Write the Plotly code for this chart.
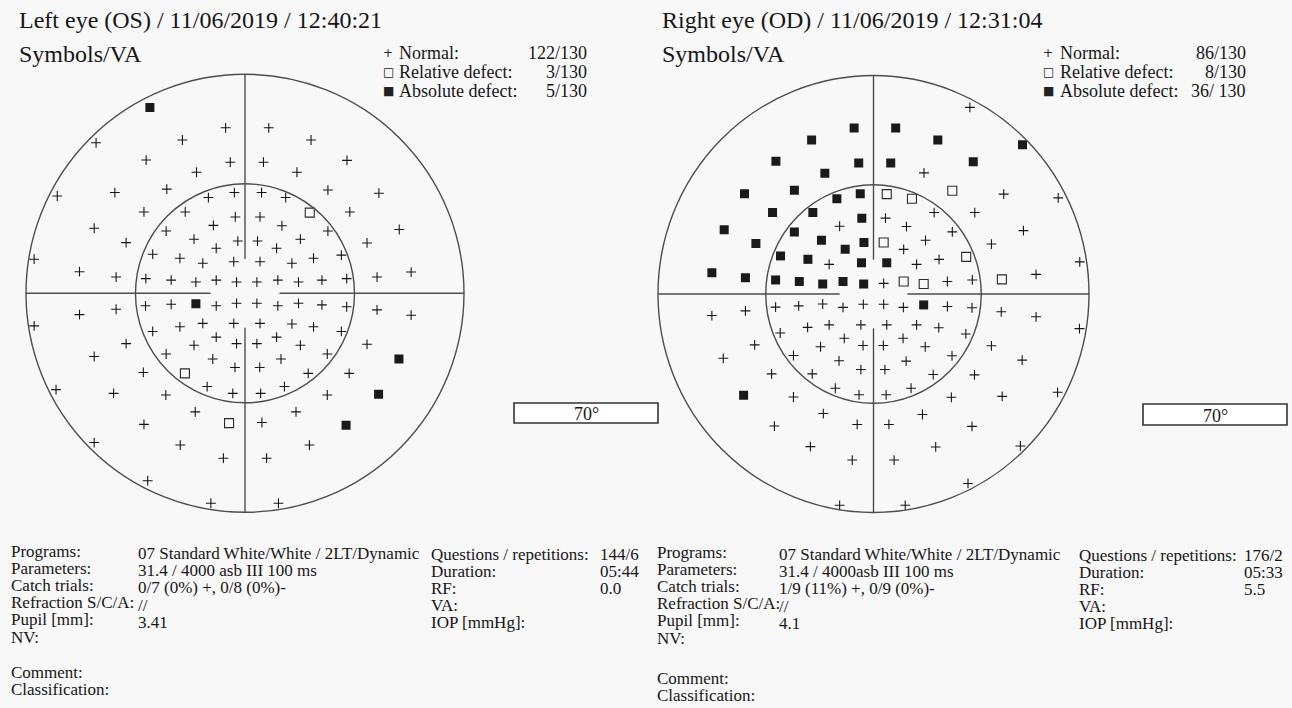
import plotly.graph_objects as go

# ---------------- data (degrees of visual field) ----------------
OS_X = [-30.4, -6.2, 7.6, -47.6, -20.0, 21.1, -31.6, -4.7, 5.9, 32.6,
        -15.5, 16.6, -60.0, -41.6, -25.0, 26.5, 42.8, -11.7, -3.4, 5.3,
        13.0, -32.3, -19.1, 20.7, 33.5, -3.1, 4.8, -48.2, -25.2, -10.1,
        11.8, 26.5, 49.3, -38.0, -16.3, -2.3, 4.0, 17.7, 39.0, -9.2,
        10.1, -67.4, -29.5, -20.8, -13.5, -3.6, 4.8, 15.0, 21.9, 30.8,
        -52.9, -41.2, -31.7, -23.6, -15.7, -9.2, -2.7, 3.8, 10.5, 17.1,
        24.6, 32.5, 42.2, 53.1, -52.9, -41.2, -31.8, -23.6, -15.7, -9.2,
        -2.7, 3.8, 10.5, 17.1, 24.6, 32.5, 42.2, 53.1, -67.4, -29.5,
        -20.8, -13.5, -3.6, 4.8, 15.0, 21.9, 30.8, -9.2, 10.1, -38.0,
        -16.3, -2.7, 3.8, 17.7, 39.0, -48.2, -25.2, -10.3, 11.5, 26.3,
        49.2, -3.2, 4.7, -32.5, -19.2, 20.2, 33.3, -12.1, -3.9, 5.0,
        12.6, -60.4, -42.0, -25.3, 26.3, 42.7, -15.9, 16.3, -32.3, -5.1,
        5.4, 32.3, -48.2, -20.7, 20.6, -6.9, 6.9, -31.1, -10.9, 10.7]
OS_Y = [59.4, 52.9, 52.9, 48.1, 49.0, 49.0, 42.6, 41.9, 41.9, 42.5,
        38.7, 38.7, 31.1, 32.2, 33.3, 33.0, 32.0, 30.6, 32.2, 32.2,
        30.6, 26.0, 26.0, 25.8, 26.0, 24.4, 24.4, 20.8, 19.9, 21.7,
        21.6, 19.9, 20.4, 16.2, 17.3, 16.7, 16.7, 17.3, 16.1, 14.4,
        14.4, 10.9, 12.5, 11.2, 9.6, 10.1, 10.1, 9.6, 11.2, 12.2,
        6.9, 5.2, 4.7, 4.2, 3.6, 4.2, 3.6, 3.6, 4.2, 3.6,
        4.2, 4.7, 5.2, 6.8, -6.8, -5.1, -4.0, -3.5, -3.3, -4.0,
        -3.2, -3.2, -4.0, -3.2, -3.7, -4.3, -5.3, -7.0, -10.4, -12.2,
        -10.7, -9.6, -9.6, -9.6, -9.8, -10.7, -12.2, -14.0, -14.0, -16.1,
        -16.6, -16.1, -16.1, -16.6, -16.3, -20.2, -19.4, -21.0, -21.0, -19.4,
        -21.0, -23.7, -23.7, -25.3, -25.6, -25.6, -25.6, -29.8, -32.0, -32.0,
        -29.8, -30.8, -32.0, -32.5, -32.5, -32.3, -37.9, -37.9, -41.9, -41.5,
        -41.3, -42.2, -47.7, -48.5, -48.5, -52.7, -52.7, -59.9, -67.1, -67.1]
# N = normal, R = relative defect, A = absolute defect
OS_STATUS = list("ANNNNNNNNN" "NNNNNNNNNN" "NNNRNNNNNN" "NNNNNNNNNN" "NNNNNNNNNN"
                 "NNNNNNNNNN" "NNNNNNNNAN" "NNNNNNNNNN" "NNNNNNNNNN" "NNNNNNNNNN"
                 "ANNNRNNNNN" "NNNNNANNNR" "NANNNNNNNN")

OD_X = [31.3, -6.3, 7.2, -20.1, 20.9, 48.4, -31.7, -4.8, 5.6, 32.4,
        -15.8, 16.4, -41.9, -25.7, -11.9, -4.3, 4.3, 12.5, 25.6, 42.3,
        60.0, -32.8, -19.7, 19.7, 32.9, -3.8, 3.9, -48.5, -25.7, -11.0,
        10.7, 25.6, 48.7, -38.2, -16.9, -3.1, 3.3, 16.9, 38.3, -9.2,
        9.8, -30.2, -21.3, -14.4, -3.9, 4.3, 14.0, 21.3, 30.1, 67.0,
        -52.5, -41.6, -31.8, -24.1, -16.5, -9.9, -3.2, 3.3, 9.8, 16.3,
        24.0, 32.1, 41.7, 52.8, -52.5, -41.6, -31.8, -24.3, -16.5, -9.9,
        -3.3, 3.3, 9.7, 16.3, 24.0, 32.0, 41.5, 52.8, 66.9, -30.3,
        -21.4, -14.4, -4.1, 4.3, 14.0, 21.2, 30.0, -38.6, -17.2, -9.5,
        -3.4, 3.2, 9.6, 16.8, 38.3, -48.8, -26.0, -11.2, 10.6, 25.5,
        48.3, -33.1, -19.9, -4.1, 3.7, 19.4, 32.8, -12.4, 12.2, -42.2,
        -26.0, -4.7, 4.1, 25.3, 41.8, 59.8, -16.3, 15.9, -32.2, -5.3,
        5.0, 32.0, -20.5, 20.2, 47.7, -6.9, 6.7, 30.7, -11.0, 10.3]
OD_Y = [59.8, 53.2, 53.2, 49.3, 49.3, 47.8, 42.5, 42.0, 42.0, 42.4,
        38.7, 38.8, 32.1, 33.2, 30.5, 32.1, 32.0, 30.5, 33.1, 32.0,
        30.8, 26.1, 26.1, 26.1, 26.1, 24.3, 24.3, 20.6, 19.9, 21.7,
        21.6, 19.9, 20.3, 16.2, 17.2, 16.5, 16.5, 17.2, 16.0, 14.3,
        14.3, 12.2, 11.1, 9.5, 10.0, 10.0, 9.5, 11.1, 11.9, 10.3,
        6.8, 5.2, 4.5, 4.0, 3.2, 4.0, 3.2, 3.4, 4.0, 3.2,
        4.0, 4.5, 4.7, 6.3, -6.9, -5.4, -4.2, -3.8, -3.2, -4.3,
        -3.3, -3.3, -4.3, -3.5, -4.0, -4.4, -5.7, -7.3, -11.1, -12.5,
        -10.7, -9.9, -9.9, -9.9, -9.9, -10.8, -12.8, -16.3, -16.9, -14.2,
        -16.5, -16.5, -14.2, -16.9, -16.6, -20.6, -19.7, -21.4, -21.5, -19.8,
        -21.2, -25.6, -25.6, -24.2, -24.2, -25.8, -25.9, -30.2, -30.2, -32.4,
        -33.0, -32.3, -32.3, -33.1, -32.8, -31.5, -38.3, -38.6, -42.3, -41.8,
        -41.8, -42.4, -48.9, -49.0, -48.7, -53.2, -53.2, -60.7, -67.7, -67.7]
OD_STATUS = list("NAAAAAAAAA" "ANAAAARRRN" "NAANNANAAN" "NNNAAARNNA" "NAANAANNRN"
                 "AAAAAAANRR" "NNRNNNNNNN" "NNNANNNNNN" "NNNNNNNNNN" "NNNNNNNNNN"
                 "NNNNNNNNNA" "NNNNNNNNNN" "NNNNNNNNNN")

OS_TITLE = "Left eye (OS) / 11/06/2019 / 12:40:21"
OD_TITLE = "Right eye (OD) / 11/06/2019 / 12:31:04"
SUBTITLE = "Symbols/VA"
LEGEND_LABELS = ["Normal:", "Relative defect:", "Absolute defect:"]
SCALE_LABEL = "70°"
FIELD_LIMIT = 70
INNER_LIMIT = 35

INFO_LABELS = ["Programs:", "Parameters:", "Catch trials:", "Refraction S/C/A:", "Pupil [mm]:", "NV:"]
OS_INFO_VALUES = ["07 Standard White/White / 2LT/Dynamic", "31.4 / 4000 asb III 100 ms",
                  "0/7 (0%) +, 0/8 (0%)-", "//", "3.41", ""]
OD_INFO_VALUES = ["07 Standard White/White / 2LT/Dynamic", "31.4 / 4000asb III 100 ms",
                  "1/9 (11%) +, 0/9 (0%)-", "//", "4.1", ""]
INFO2_LABELS = ["Questions / repetitions:", "Duration:", "RF:", "VA:", "IOP [mmHg]:"]
OS_INFO2_VALUES = ["144/6", "05:44", "0.0", "", ""]
OD_INFO2_VALUES = ["176/2", "05:33", "5.5", "", ""]
FOOT_LABELS = ["Comment:", "Classification:"]

# ---------------- layout helpers ----------------
W, H = 1292, 708
FONT = "Liberation Serif, Times New Roman, serif"
INK = "#161616"
LINE = "#4d4d4d"
BG = "#f8f8f8"


def fx(p):
    return p / W


def fy(p):
    return 1 - p / H


AX = 75  # axis half-range in degrees
GAP = 11

eyes = [
    dict(x=OS_X, y=OS_Y, s=OS_STATUS, cx=245.0, cy=293.3, rx=219.0, ry=219.0, xa="x", ya="y"),
    dict(x=OD_X, y=OD_Y, s=OD_STATUS, cx=873.5, cy=294.0, rx=215.5, ry=218.5, xa="x2", ya="y2"),
]

fig = go.Figure()
shapes = []
layout_axes = {}

styles = {
    "N": dict(symbol="cross-thin", size=7, line=dict(width=1.1, color=INK), color=INK),
    "R": dict(symbol="square-open", size=9, line=dict(width=1.1, color="#2a2a2a"), color="#2a2a2a"),
    "A": dict(symbol="square", size=9, line=dict(width=0, color=INK), color="#1a1a1a"),
}

for i, e in enumerate(eyes):
    sx = e["rx"] / FIELD_LIMIT * AX
    sy = e["ry"] / FIELD_LIMIT * AX
    xd = [fx(e["cx"] - sx), fx(e["cx"] + sx)]
    yd = [fy(e["cy"] + sy), fy(e["cy"] - sy)]
    suffix = "" if i == 0 else "2"
    layout_axes["xaxis" + suffix] = dict(domain=xd, range=[-AX, AX], visible=False,
                                         fixedrange=True, anchor=e["ya"])
    layout_axes["yaxis" + suffix] = dict(domain=yd, range=[-AX, AX], visible=False,
                                         fixedrange=True, anchor=e["xa"])
    for code in ["N", "R", "A"]:
        xs = [x for x, s in zip(e["x"], e["s"]) if s == code]
        ys = [y for y, s in zip(e["y"], e["s"]) if s == code]
        fig.add_trace(go.Scatter(x=xs, y=ys, mode="markers", xaxis=e["xa"], yaxis=e["ya"],
                                 marker=styles[code], hoverinfo="skip", showlegend=False))
    ref = dict(xref=e["xa"], yref=e["ya"], line=dict(color=LINE, width=1.4))
    for r in (FIELD_LIMIT, INNER_LIMIT):
        shapes.append(dict(type="circle", x0=-r, x1=r, y0=-r, y1=r, **ref))
    shapes.append(dict(type="line", x0=0, x1=0, y0=GAP, y1=FIELD_LIMIT, **ref))
    shapes.append(dict(type="line", x0=0, x1=0, y0=-FIELD_LIMIT, y1=-GAP, **ref))
    shapes.append(dict(type="line", x0=-FIELD_LIMIT, x1=-GAP, y0=0, y1=0, **ref))
    shapes.append(dict(type="line", x0=GAP, x1=FIELD_LIMIT, y0=0, y1=0, **ref))

annotations = []


def txt(text, x, y, size, anchor="left", color=INK):
    annotations.append(dict(text=text, x=fx(x), y=fy(y), xref="paper", yref="paper",
                            xanchor=anchor, yanchor="middle", showarrow=False, borderpad=0,
                            font=dict(family=FONT, size=size, color=color)))


# titles
txt(OS_TITLE, 18, 20, 24)
txt(SUBTITLE, 18, 54, 24)
txt(OD_TITLE, 661, 20, 24)
txt(SUBTITLE, 661, 54, 24)

# legends (counts computed from the data)
glyphs = ["+", "□", "■"]
for (gx, lx, vx, status, absspace) in [(388, 398, 588, OS_STATUS, ""), (1048, 1059, 1247, OD_STATUS, " ")]:
    total = len(status)
    counts = [status.count("N"), status.count("R"), status.count("A")]
    for k in range(3):
        yy = 53 + 19 * k
        annotations.append(dict(text=glyphs[k], x=fx(gx), y=fy(yy), xref="paper",
                                yref="paper", xanchor="center", yanchor="middle", showarrow=False,
                                borderpad=0, font=dict(family="DejaVu Sans", size=12, color="#222")))
        txt(LEGEND_LABELS[k], lx, yy, 18)
        sep = absspace if k == 2 else ""
        txt(f"{counts[k]}/{sep}{total}", vx, yy, 18, anchor="right")

# 70° scale boxes
for (x0, x1, y0, y1) in [(514, 658, 403, 423), (1143, 1287, 404, 425)]:
    shapes.append(dict(type="rect", xref="paper", yref="paper", x0=fx(x0), x1=fx(x1),
                       y0=fy(y1), y1=fy(y0), line=dict(color="#333", width=1.6), fillcolor="white"))
    txt(SCALE_LABEL, (x0 + x1) / 2, (y0 + y1) / 2 + 1, 18, anchor="center")

# bottom info blocks
STEP = 17.2
for (lx, vx, qx, qvx, vals, vals2, top, foot) in [
        (10, 137, 430, 599, OS_INFO_VALUES, OS_INFO2_VALUES, 551, 672),
        (656, 778, 1078, 1243, OD_INFO_VALUES, OD_INFO2_VALUES, 552, 678)]:
    for k, lab in enumerate(INFO_LABELS):
        yy = top + STEP * k
        txt(lab, lx, yy, 17)
        if vals[k]:
            txt(vals[k], vx, yy + 2.5, 17)
    for k, lab in enumerate(INFO2_LABELS):
        yy = top + 3 + STEP * k
        txt(lab, qx, yy, 17)
        if vals2[k]:
            txt(vals2[k], qvx, yy, 17)
    txt(FOOT_LABELS[0], lx, foot, 17)
    txt(FOOT_LABELS[1], lx, foot + STEP, 17)

fig.update_layout(width=W, height=H, autosize=False,
                  margin=dict(l=0, r=0, t=0, b=0, pad=0),
                  paper_bgcolor=BG, plot_bgcolor="rgba(0,0,0,0)",
                  shapes=shapes, annotations=annotations, showlegend=False,
                  **layout_axes)

fig.write_html("out.html", include_plotlyjs=True, full_html=True,
               config={"displayModeBar": False, "staticPlot": True},
               post_script="document.body.style.margin='0';document.body.style.overflow='hidden';")
